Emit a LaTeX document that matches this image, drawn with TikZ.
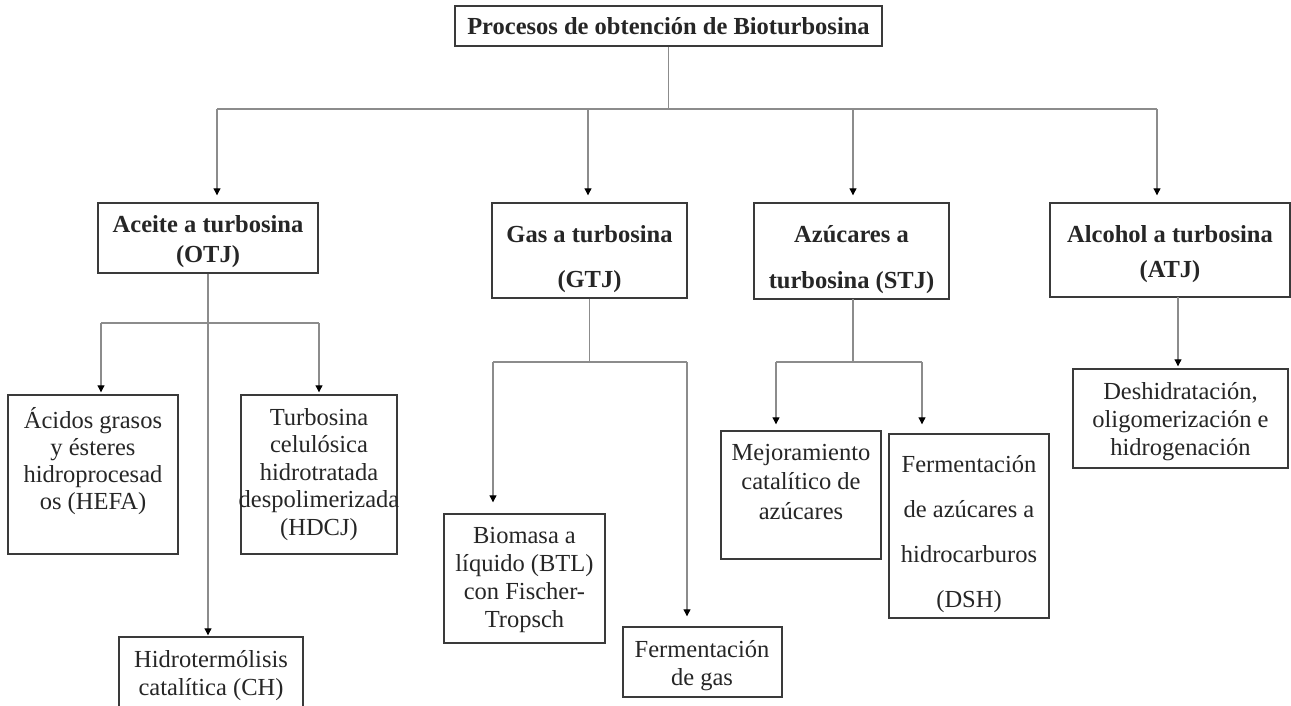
\documentclass[tikz,border=0pt]{standalone}
\usepackage{fontspec}
\setmainfont{Liberation Serif}
\usetikzlibrary{arrows.meta}
\definecolor{boxc}{HTML}{3A3A3A}
\definecolor{connc}{HTML}{8C8C8C}
\newcommand\mybox[5]{\node[box,minimum width={#4-#2},minimum height={#5-#3}] (#1) at ({(#2+#4)/2},{(#3+#5)/2}) {};}
\newcommand\fs[1]{\fontsize{24.5}{#1}\selectfont}
\begin{document}
\begin{tikzpicture}[x=1pt,y=-1pt,
  box/.style={draw=boxc,line width=1.4pt,inner sep=0pt,rectangle},
  txt/.style={align=center,inner sep=0pt,text=black!85},
  conn/.style={draw=connc,line width=1.1pt},
  arr/.style={conn,-{Triangle[width=7pt,length=7pt,color=black,fill=black]}}]
\fill[white] (0,0) rectangle (1291,706);
\useasboundingbox (0,0) rectangle (1291,706);

% boxes
\mybox{title}{455}{6}{882}{46}
\mybox{otj}{98}{203}{318}{273}
\mybox{gtj}{492}{203}{687}{298}
\mybox{stj}{754}{203}{949}{299}
\mybox{atj}{1050}{203}{1290}{297}
\mybox{hefa}{8}{395}{178}{554}
\mybox{hdcj}{241}{395}{397}{554}
\mybox{ch}{119}{637}{303}{708}
\mybox{btl}{444}{514}{605}{643}
\mybox{ferm}{623}{627}{782}{697}
\mybox{mejor}{721}{431}{881}{559}
\mybox{dsh}{889}{434}{1049}{618}
\mybox{desh}{1073}{369}{1288}{468}

% texts
\node[txt,font=\fs{28}\bfseries] (title-t) at (668.5,26) {Procesos de obtención de Bioturbosina};
\node[txt,font=\fs{30}\bfseries] (otj-t) at (208,242) {Aceite a turbosina\\(OTJ)};
\node[txt,font=\fs{45}\bfseries] (gtj-t) at (589.5,259) {Gas a turbosina\\(GTJ)};
\node[txt,font=\fs{46}\bfseries] (stj-t) at (851.5,260) {Azúcares a\\turbosina (STJ)};
\node[txt,font=\fs{35}\bfseries] (atj-t) at (1170,254) {Alcohol a turbosina\\(ATJ)};
\node[txt,font=\fs{27}] (hefa-t) at (93,461) {Ácidos grasos\\y ésteres\\hidroprocesad\\os (HEFA)};
\node[txt,font=\fs{27.5}] (hdcj-t) at (319,474.5) {Turbosina\\celulósica\\hidrotratada\\despolimerizada\\(HDCJ)};
\node[txt,font=\fs{28}] (ch-t) at (211,675.5) {Hidrotermólisis\\catalítica (CH)};
\node[txt,font=\fs{28.3}] (btl-t) at (524.5,580) {Biomasa a\\líquido (BTL)\\con Fischer-\\Tropsch};
\node[txt,font=\fs{28}] (ferm-t) at (702,665.5) {Fermentación\\de gas};
\node[txt,font=\fs{29.5}] (mejor-t) at (801,482) {Mejoramiento\\catalítico de\\azúcares};
\node[txt,font=\fs{45}] (dsh-t) at (969,534) {Fermentación\\de azúcares a\\hidrocarburos\\(DSH)};
\node[txt,font=\fs{28}] (desh-t) at (1180.5,421.5) {Deshidratación,\\oligomerización e\\hidrogenación};

% main bus
\coordinate (bL) at (217,109);
\coordinate (bG) at (588,109);
\coordinate (bS) at (853,109);
\coordinate (bR) at (1157,109);
\draw[conn] (title.south) -- (title.south |- bL);
\draw[conn] (bL) -- (bR);
\draw[arr,shorten >=7pt] (bL) -- (bL |- otj.north);
\draw[arr,shorten >=7pt] (bG) -- (bG |- gtj.north);
\draw[arr,shorten >=7pt] (bS) -- (bS |- stj.north);
\draw[arr,shorten >=7pt] (bR) -- (bR |- atj.north);

% OTJ branch
\coordinate (oL) at (101,323);
\coordinate (oR) at (319,323);
\draw[conn] (oL) -- (oR);
\draw[arr,shorten >=1pt] (otj.south) -- (otj.south |- ch.north);
\draw[arr,shorten >=2pt] (oL) -- (oL |- hefa.north);
\draw[arr,shorten >=2pt] (oR) -- (oR |- hdcj.north);

% GTJ branch
\coordinate (gL) at (493,362);
\coordinate (gR) at (687,362);
\draw[conn] (gtj.south) -- (gtj.south |- gL);
\draw[conn] (gL) -- (gR);
\draw[arr,shorten >=11pt] (gL) -- (gL |- btl.north);
\draw[arr,shorten >=10pt] (gR) -- (gR |- ferm.north);

% STJ branch
\coordinate (sT) at (853,299);
\coordinate (sL) at (776,362);
\coordinate (sR) at (922,362);
\draw[conn] (sT) -- (sT |- sL);
\draw[conn] (sL) -- (sR);
\draw[arr,shorten >=6pt] (sL) -- (sL |- mejor.north);
\draw[arr,shorten >=9pt] (sR) -- (sR |- dsh.north);

% ATJ branch
\coordinate (aT) at (1178,297);
\draw[arr,shorten >=2pt] (aT) -- (aT |- desh.north);
\end{tikzpicture}
\end{document}
